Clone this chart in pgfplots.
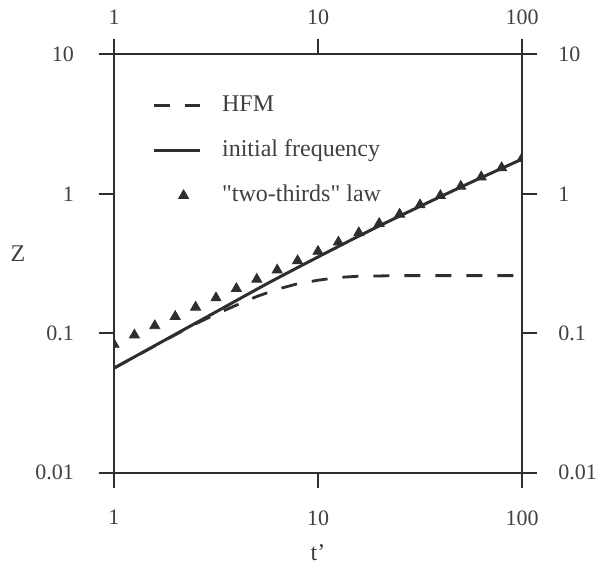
\documentclass[border=0pt]{standalone}
\usepackage{fontspec}
\setmainfont{Liberation Serif}[Ligatures=TeXOff]
\usepackage{pgfplots}
\usepackage{pgfplotstable}
\pgfplotsset{compat=1.18}

\definecolor{ink}{gray}{0.18}
\definecolor{txt}{gray}{0.25}

\pgfplotsset{
  /pgfplots/longline legend/.style={legend image code/.code={\draw[##1] (0pt,0pt) -- (23pt,0pt);}},
  /pgfplots/tri legend/.style={legend image code/.code={\path[draw=none,fill=none] (0pt,-0.1pt) rectangle (23pt,0.1pt); \draw[##1] plot coordinates {(15pt,0pt)};}},
}

% HFM (dashed)
\pgfplotstableread{
t Z
1 0.0562
1.7783 0.0890
2.5119 0.1168
3.1623 0.1370
3.9811 0.1590
5.0119 0.1835
6.3096 0.2065
7.9433 0.2265
10 0.2399
12.589 0.2512
15.849 0.2564
25.119 0.2588
100 0.2588
}\hfm

% initial frequency (solid)
\pgfplotstableread{
t Z
1 0.0562
1.7783 0.0894
3.1623 0.1423
5.6234 0.2265
10 0.3522
17.783 0.5412
31.623 0.8128
56.234 1.2071
100 1.7712
}\initfreq

% "two-thirds" law (triangles)
\pgfplotstableread{
t Z
1 0.0832
1.2589 0.0970
1.5849 0.1131
1.9953 0.1318
2.5119 0.1537
3.1623 0.1792
3.9811 0.2089
5.0119 0.2435
6.3096 0.2839
7.9433 0.3311
10 0.3860
12.589 0.4500
15.849 0.5248
19.953 0.6118
25.119 0.7133
31.623 0.8318
39.811 0.9698
50.119 1.1307
63.096 1.3183
79.433 1.5370
100 1.7920
}\twothirds

\begin{document}
\begin{tikzpicture}
\begin{axis}[
  width=204pt, height=209.2pt, scale only axis,
  xmode=log, ymode=log,
  xmin=1, xmax=100, ymin=0.01, ymax=10,
  xtick={1,10,100}, xticklabels={1,10,100},
  ytick={0.01,0.1,1,10}, yticklabels={0.01,0.1,1,10},
  xminorticks=false, yminorticks=false,
  tick align=outside,
  major tick length=7.75pt,
  tick label style={font=\fontsize{11}{13}\selectfont, text=txt, inner sep=0pt},
  xticklabel style={yshift=-10.9pt},
  yticklabel style={xshift=-12.2pt},
  axis line style={ink, line width=1pt},
  major tick style={ink, line width=1pt},
  clip marker paths=true,
  xlabel={t’}, ylabel={Z},
  xlabel style={at={(rel axis cs:0.5,0)}, anchor=center, inner sep=0pt, yshift=-40pt, font=\fontsize{12}{14}\selectfont, text=txt},
  ylabel style={at={(rel axis cs:0,0.5)}, anchor=center, inner sep=0pt, rotate=-90, xshift=-48pt, yshift=5pt, font=\fontsize{12}{14}\selectfont, text=txt},
  legend style={draw=none, fill=none, at={(rel axis cs:0.0924,0.907)}, anchor=north west,
    inner sep=0pt, row sep=10.5pt,
    nodes={inner sep=0pt, text height=9pt, text depth=3pt, font=\fontsize{12}{14}\selectfont, text=txt},
    /tikz/every odd column/.append style={column sep=10.5pt}},
  legend cell align=left,
]
\addplot[ink, line width=1.4pt, dash pattern=on 8pt off 7.5pt, longline legend] table {\hfm};
\addlegendentry{HFM}
\addplot[ink, line width=1.5pt, smooth, longline legend] table {\initfreq};
\addlegendentry{initial frequency}
\addplot[only marks, mark=triangle*, mark size=2.9pt, ink, tri legend] table {\twothirds};
\addlegendentry{"two-thirds" law}
\end{axis}
\begin{axis}[
  width=204pt, height=209.2pt, scale only axis,
  xmode=log, ymode=log,
  xmin=1, xmax=100, ymin=0.01, ymax=10,
  xtick={1,10,100}, xticklabels={1,10,100},
  ytick={0.01,0.1,1,10}, yticklabels={0.01,0.1,1,10},
  xminorticks=false, yminorticks=false,
  tick align=outside,
  major tick length=7.75pt,
  tick label style={font=\fontsize{11}{13}\selectfont, text=txt, inner sep=0pt},
  xticklabel style={yshift=6.9pt},
  yticklabel style={xshift=10.2pt},
  axis line style={ink, line width=1pt},
  major tick style={ink, line width=1pt},
  xticklabel pos=right, yticklabel pos=right,
]
\end{axis}
\path (-57pt,-47.15pt) rectangle (242pt,236.35pt);
\end{tikzpicture}
\end{document}
